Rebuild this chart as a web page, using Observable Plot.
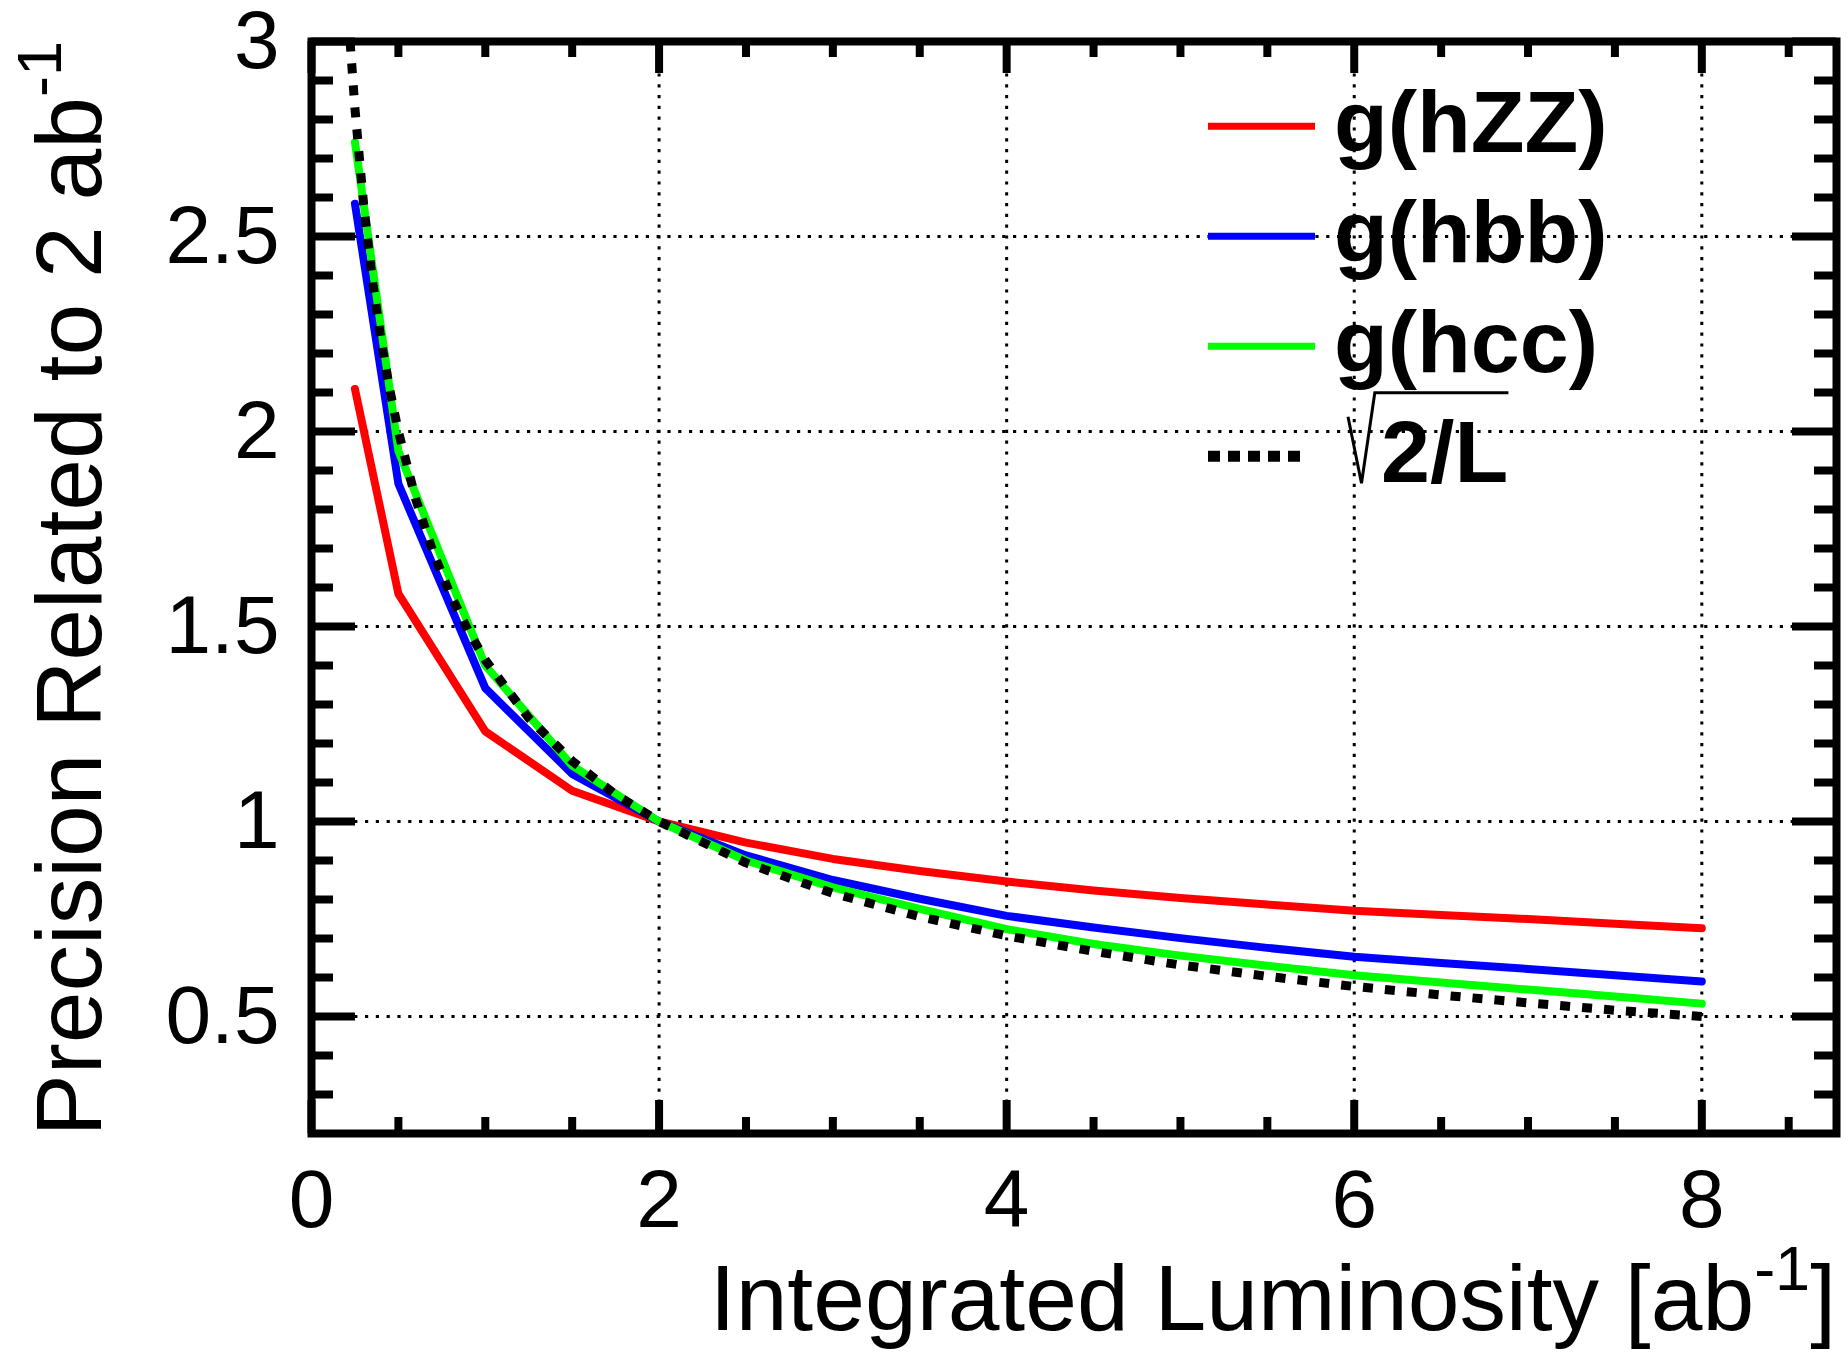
<!DOCTYPE html>
<html>
<head>
<meta charset="utf-8">
<script src="https://cdn.jsdelivr.net/npm/d3@7"></script>
<script src="https://cdn.jsdelivr.net/npm/@observablehq/plot@0.6"></script>
<style>
  html, body { margin: 0; padding: 0; background: #fff; }
  #chart svg { display: block; }
</style>
</head>
<body>
<div id="chart"></div>
<script>
// ---------------- data ----------------
const lumi = [0.25, 0.5, 1, 1.5, 2, 2.5, 3, 3.5, 4, 4.5, 5, 5.5, 6, 6.5, 7, 7.5, 8];
const gHZZ = [2.109, 1.584, 1.231, 1.079, 1.0, 0.946, 0.904, 0.873, 0.846, 0.823, 0.804, 0.787, 0.771, 0.760, 0.750, 0.738, 0.726];
const gHbb = [2.584, 1.866, 1.342, 1.122, 1.0, 0.913, 0.850, 0.802, 0.758, 0.728, 0.701, 0.676, 0.653, 0.637, 0.622, 0.606, 0.590];
const gHcc = [2.742, 1.950, 1.400, 1.143, 1.0, 0.900, 0.831, 0.776, 0.724, 0.686, 0.656, 0.630, 0.606, 0.587, 0.569, 0.551, 0.533];
const sqrtLumi = [0.222, 0.25, 0.3, 0.35, 0.4, 0.45, 0.5, 0.6, 0.7, 0.8, 0.9, 1, 1.25, 1.5, 1.75, 2, 2.5, 3, 3.5, 4, 4.5, 5, 5.5, 6, 6.5, 7, 7.5, 8];
const sqrtVals = [3.0, 2.828, 2.582, 2.390, 2.236, 2.108, 2.0, 1.826, 1.690, 1.581, 1.491, 1.414, 1.265, 1.155, 1.069, 1.0, 0.894, 0.816, 0.756, 0.707, 0.667, 0.632, 0.603, 0.577, 0.555, 0.535, 0.516, 0.5];

const xTickLabels = [0, 2, 4, 6, 8];
const yTickLabels = [0.5, 1, 1.5, 2, 2.5, 3];
const xGridValues = [2, 4, 6, 8];
const yGridValues = [0.5, 1, 1.5, 2, 2.5];

const legendLabels = ["g(hZZ)", "g(hbb)", "g(hcc)", "2/L"];
const seriesColors = ["#ff0000", "#0000ff", "#00ff00", "#000000"];

const xTitle = "Integrated Luminosity [ab";
const yTitle = "Precision Related to 2 ab";
const supText = "-1";

// ---------------- layout ----------------
const W = 1848, H = 1353;
const M = {top: 41, right: 12, bottom: 220, left: 311};
const xDomain = [0, 8.775], yDomain = [0.2, 3];
const pxX = (W - M.left - M.right) / (xDomain[1] - xDomain[0]);
const pxY = (H - M.top - M.bottom) / (yDomain[1] - yDomain[0]);
const FONT = "'Liberation Sans', Arial, Helvetica, sans-serif";

const rows = vals => lumi.map((L, i) => ({L, v: vals[i]}));
const sqrtRows = sqrtLumi.map((L, i) => ({L, v: sqrtVals[i]}));

const xMinor = d3.range(0.5, xDomain[1], 0.5).filter(v => Math.abs(v % 2) > 1e-9);
const yMinor = d3.range(3, 30).filter(i => i % 5 !== 0).map(i => i / 10);

const tickStyle = {stroke: "#000", strokeWidth: 8, strokeLinecap: "butt"};
const gridStyle = {stroke: "#000", strokeWidth: 3, strokeDasharray: "3.2,7.6"};
const LW = 8;

const plot = Plot.plot({
  width: W,
  height: H,
  marginTop: M.top, marginRight: M.right, marginBottom: M.bottom, marginLeft: M.left,
  x: {domain: xDomain, label: null},
  y: {domain: yDomain, label: null},
  style: {fontFamily: FONT, fontSize: "82px", background: "#fff", color: "#000", overflow: "visible"},
  marks: [
    Plot.ruleX(xGridValues, gridStyle),
    Plot.ruleY(yGridValues, gridStyle),
    Plot.line(rows(gHZZ), {x: "L", y: "v", stroke: seriesColors[0], strokeWidth: LW, clip: true}),
    Plot.line(rows(gHbb), {x: "L", y: "v", stroke: seriesColors[1], strokeWidth: LW, clip: true}),
    Plot.line(rows(gHcc), {x: "L", y: "v", stroke: seriesColors[2], strokeWidth: LW, clip: true}),
    Plot.line(sqrtRows, {x: "L", y: "v", stroke: seriesColors[3], strokeWidth: 9, strokeDasharray: "10,12", strokeLinecap: "butt", clip: true}),
    // inside ticks (ROOT style), bottom/top
    Plot.ruleX(xTickLabels, {y1: yDomain[0], y2: yDomain[0] + 33 / pxY, ...tickStyle}),
    Plot.ruleX(xTickLabels, {y1: yDomain[1], y2: yDomain[1] - 32 / pxY, ...tickStyle}),
    Plot.ruleX(xMinor, {y1: yDomain[0], y2: yDomain[0] + 16 / pxY, ...tickStyle}),
    Plot.ruleX(xMinor, {y1: yDomain[1], y2: yDomain[1] - 16 / pxY, ...tickStyle}),
    // left/right
    Plot.ruleY(yTickLabels, {x1: xDomain[0], x2: xDomain[0] + 44 / pxX, ...tickStyle}),
    Plot.ruleY(yTickLabels, {x1: xDomain[1], x2: xDomain[1] - 44 / pxX, ...tickStyle}),
    Plot.ruleY(yMinor, {x1: xDomain[0], x2: xDomain[0] + 22 / pxX, ...tickStyle}),
    Plot.ruleY(yMinor, {x1: xDomain[1], x2: xDomain[1] - 22 / pxX, ...tickStyle}),
    Plot.frame({stroke: "#000", strokeWidth: 8}),
    Plot.axisX(xTickLabels, {tickSize: 0, tickPadding: 35, tickFormat: d => String(d), fontSize: 82, label: null}),
    Plot.axisY(yTickLabels, {tickSize: 0, tickPadding: 32, tickFormat: d => String(d), fontSize: 82, label: null})
  ]
});

// ---------------- titles & legend ----------------
const svg = d3.select(plot);

// x title (right aligned to frame)
const xt = svg.append("text")
  .attr("x", W - M.right).attr("y", 1330)
  .attr("text-anchor", "end")
  .attr("font-family", FONT).attr("font-size", 93).attr("fill", "#000");
xt.append("tspan").text(xTitle);
xt.append("tspan").attr("font-size", 63).attr("dy", -40).text(supText);
xt.append("tspan").attr("dy", 40).text("]");

// y title (rotated, right aligned to top of frame)
const yt = svg.append("text")
  .attr("transform", `translate(101,${M.top}) rotate(-90)`)
  .attr("text-anchor", "end")
  .attr("font-family", FONT).attr("font-size", 93).attr("fill", "#000");
yt.append("tspan").text(yTitle);
yt.append("tspan").attr("font-size", 63).attr("dy", -40).text(supText);

// legend
const leg = svg.append("g")
  .attr("font-family", FONT).attr("font-weight", "bold").attr("font-size", 88)
  .attr("text-anchor", "start");
legendLabels.forEach((label, i) => {
  const base = 151.7 + i * 110;
  const isSqrt = i === 3;
  leg.append("line")
    .attr("x1", 1208).attr("x2", isSqrt ? 1305 : 1315)
    .attr("y1", base - 25.5).attr("y2", base - 25.5)
    .attr("stroke", seriesColors[i])
    .attr("stroke-width", isSqrt ? 11 : 7)
    .attr("stroke-dasharray", isSqrt ? "12,8" : null);
  if (isSqrt) {
    leg.append("path")
      .attr("d", `M1348,${base - 65} L1361.5,${base + 1.6} L1374.8,${base - 89} L1508.4,${base - 89}`)
      .attr("fill", "none").attr("stroke", "#000").attr("stroke-width", 3).attr("stroke-linejoin", "miter");
    leg.append("text").attr("x", 1381).attr("y", base).attr("text-anchor", "start").attr("fill", "#000").text(label);
  } else {
    leg.append("text").attr("x", 1334).attr("y", base).attr("text-anchor", "start").attr("fill", "#000").text(label);
  }
});

document.getElementById("chart").append(plot);
</script>
</body>
</html>
